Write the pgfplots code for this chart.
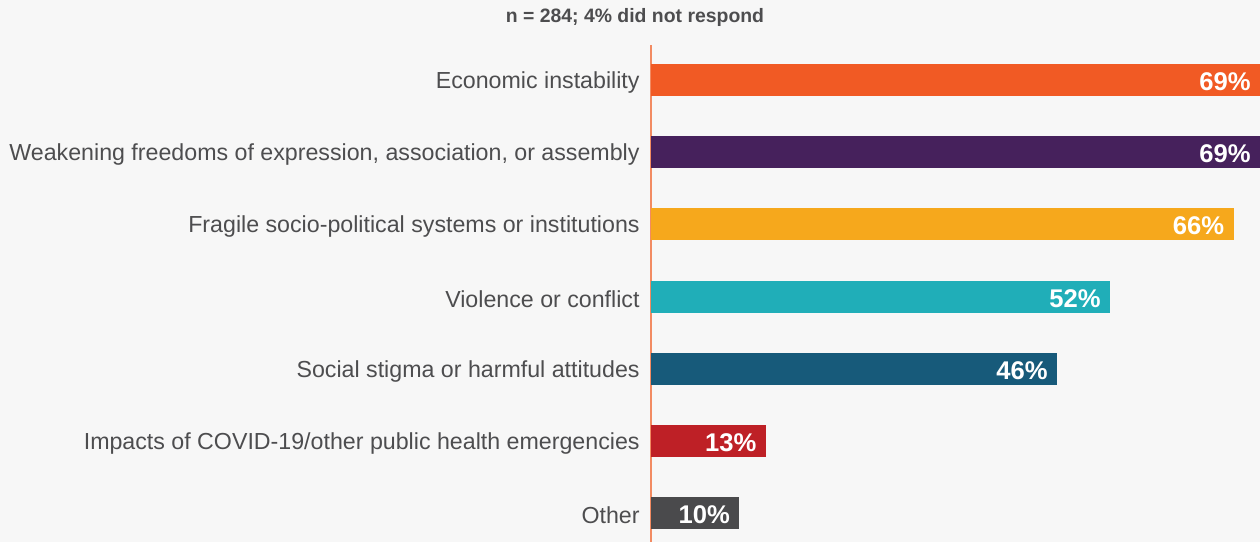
\documentclass[border=0pt]{standalone}
\usepackage{pgfplots}
\pgfplotsset{compat=1.18}
\usepackage{fontspec}
\setmainfont{Liberation Sans}
\definecolor{bg}{HTML}{F7F7F7}
\definecolor{labc}{HTML}{4D4D4F}
\definecolor{axisc}{HTML}{F28B62}
\definecolor{c1}{HTML}{F15A24}
\definecolor{c2}{HTML}{46215C}
\definecolor{c3}{HTML}{F6A81C}
\definecolor{c4}{HTML}{20AEB8}
\definecolor{c5}{HTML}{175A7A}
\definecolor{c6}{HTML}{BE2026}
\definecolor{c7}{HTML}{4A4A4C}
\begin{document}
\begin{tikzpicture}
\useasboundingbox (-325.5pt,0pt) rectangle (304.5pt,271pt);
\fill[bg] (-325.5pt,0pt) rectangle (304.5pt,271pt);
\node[font=\bfseries\fontsize{9.7}{11}\selectfont, text=labc] at (-8pt,262.5pt) {n = 284; 4\% did not respond};
\begin{axis}[at={(0pt,0pt)}, anchor=south west, scale only axis,
  width=304.5pt, height=248.5pt,
  xmin=0, xmax=69, ymin=-0.486, ymax=6.4, y dir=reverse,
  xbar, bar width=16pt, bar shift=0pt,
  axis x line=none, axis y line*=left,
  y axis line style={draw=axisc, line width=0.6pt, -},
  ytick={0,1,2,3,4,5,6},
  yticklabels={Economic instability,
    {Weakening freedoms of expression, association, or assembly},
    Fragile socio-political systems or institutions,
    Violence or conflict,
    Social stigma or harmful attitudes,
    Impacts of COVID-19/other public health emergencies,
    Other},
  major tick length=0pt, ytick style={draw=none},
  yticklabel style={font=\fontsize{11.6}{13}\selectfont, text=labc, inner sep=0pt, xshift=-5.5pt, yshift=-1.2pt},
  point meta=x,
  nodes near coords={\pgfmathprintnumber{\pgfplotspointmeta}\%},
  every node near coord/.append style={anchor=east, font=\bfseries\fontsize{12.8}{14}\selectfont, text=white, inner sep=0pt, xshift=-4.5pt, yshift=-0.8pt},
  /pgf/number format/assume math mode=true,
  clip=false]
\addplot[fill=c1, draw=none] coordinates {(69,0)};
\addplot[fill=c2, draw=none] coordinates {(69,1)};
\addplot[fill=c3, draw=none] coordinates {(66,2)};
\addplot[fill=c4, draw=none] coordinates {(52,3)};
\addplot[fill=c5, draw=none] coordinates {(46,4)};
\addplot[fill=c6, draw=none] coordinates {(13,5)};
\addplot[fill=c7, draw=none] coordinates {(10,6)};
\end{axis}
\end{tikzpicture}
\end{document}
